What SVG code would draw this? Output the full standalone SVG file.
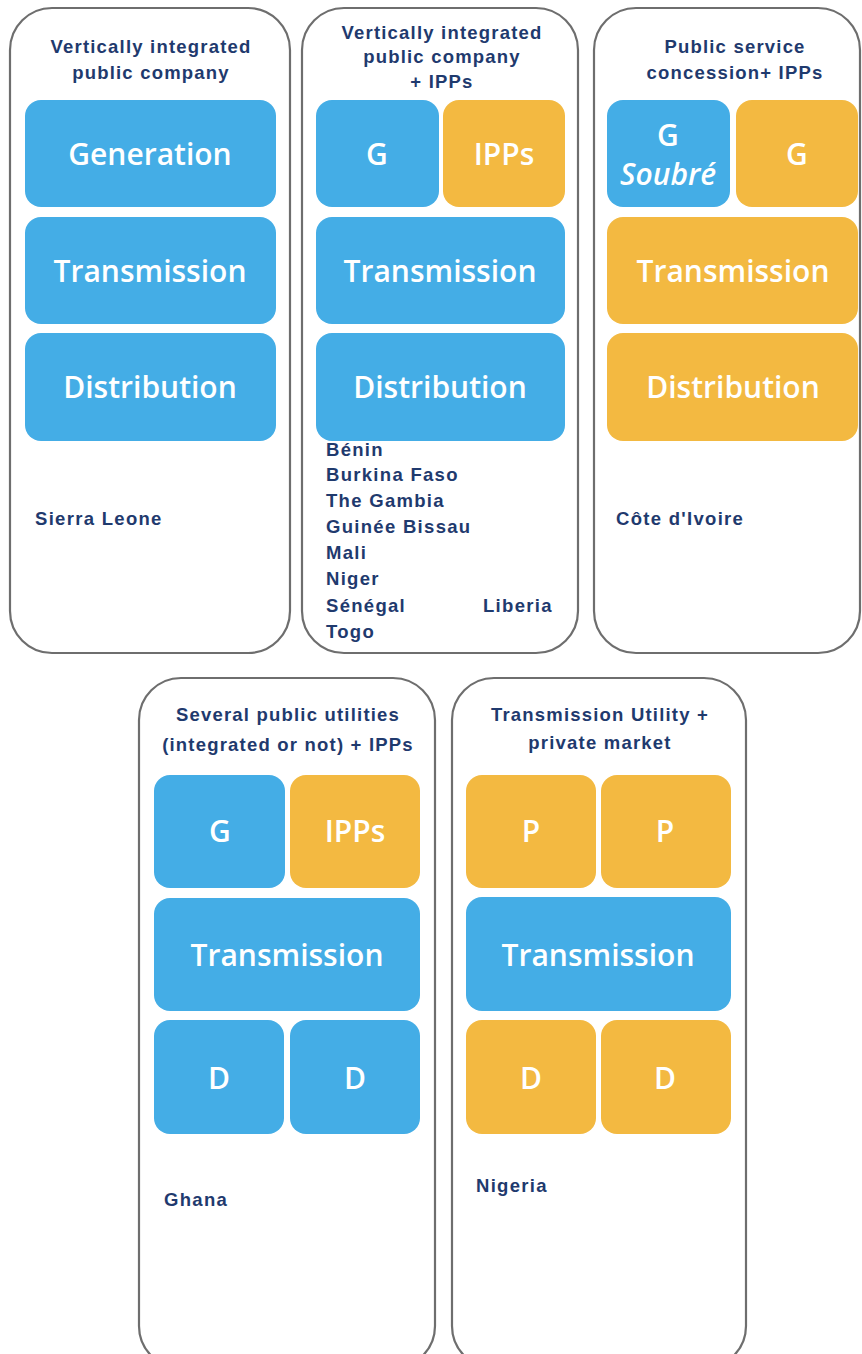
<svg xmlns="http://www.w3.org/2000/svg" width="862" height="1354" viewBox="0 0 862 1354">
<style>
.panel{fill:#fff;stroke:#6e6e6e;stroke-width:2.2}
.b{fill:#44ade6}
.o{fill:#f3b941}
.bt{font-family:"Open Sans","Noto Sans",sans-serif;font-weight:600;font-size:30px;fill:#fff;text-anchor:middle}
.tt{font-family:"Liberation Sans",Arial,sans-serif;font-weight:bold;font-size:18.5px;letter-spacing:1.2px;fill:#1f3a6e;text-anchor:middle}
.ct{font-family:"Liberation Sans",Arial,sans-serif;font-weight:bold;font-size:18.5px;letter-spacing:1.3px;fill:#1f3a6e}
</style>
<rect width="862" height="1354" fill="#fff"/>
<g id="panel1">
<rect class="panel" x="10" y="8" width="280" height="645" rx="42"/>
<text class="tt" x="151" y="53">Vertically integrated</text>
<text class="tt" x="151" y="79">public company</text>
<rect class="b" x="25" y="100" width="251" height="107" rx="16"/>
<text class="bt" x="150" y="165">Generation</text>
<rect class="b" x="25" y="217" width="251" height="107" rx="16"/>
<text class="bt" x="150" y="282">Transmission</text>
<rect class="b" x="25" y="333" width="251" height="108" rx="16"/>
<text class="bt" x="150" y="398">Distribution</text>
<text class="ct" x="35" y="525">Sierra Leone</text>
</g>
<g id="panel2">
<rect class="panel" x="302" y="8" width="276" height="645" rx="42"/>
<text class="tt" x="442" y="39">Vertically integrated</text>
<text class="tt" x="442" y="63">public company</text>
<text class="tt" x="442" y="88">+ IPPs</text>
<rect class="b" x="316" y="100" width="123" height="107" rx="16"/>
<text class="bt" x="377" y="165">G</text>
<rect class="o" x="443" y="100" width="122" height="107" rx="16"/>
<text class="bt" x="504" y="165">IPPs</text>
<rect class="b" x="316" y="217" width="249" height="107" rx="16"/>
<text class="bt" x="440" y="282">Transmission</text>
<rect class="b" x="316" y="333" width="249" height="108" rx="16"/>
<text class="bt" x="440" y="398">Distribution</text>
<text class="ct" x="326" y="456">Bénin</text>
<text class="ct" x="326" y="481">Burkina Faso</text>
<text class="ct" x="326" y="507">The Gambia</text>
<text class="ct" x="326" y="533">Guinée Bissau</text>
<text class="ct" x="326" y="559">Mali</text>
<text class="ct" x="326" y="585">Niger</text>
<text class="ct" x="326" y="612">Sénégal</text>
<text class="ct" x="483" y="612">Liberia</text>
<text class="ct" x="326" y="638">Togo</text>
</g>
<g id="panel3">
<rect class="panel" x="594" y="8" width="266" height="645" rx="42"/>
<text class="tt" x="735" y="53">Public service</text>
<text class="tt" x="735" y="79">concession+ IPPs</text>
<rect class="b" x="607" y="100" width="123" height="107" rx="16"/>
<text class="bt" x="668" y="146">G</text>
<text class="bt" x="668" y="185" font-style="italic" font-size="25">Soubré</text>
<rect class="o" x="736" y="100" width="122" height="107" rx="16"/>
<text class="bt" x="797" y="165">G</text>
<rect class="o" x="607" y="217" width="251" height="107" rx="16"/>
<text class="bt" x="733" y="282">Transmission</text>
<rect class="o" x="607" y="333" width="251" height="108" rx="16"/>
<text class="bt" x="733" y="398">Distribution</text>
<text class="ct" x="616" y="525">Côte d'Ivoire</text>
</g>
<g id="panel4">
<rect class="panel" x="139" y="678" width="296" height="690" rx="42"/>
<text class="tt" x="288" y="721" letter-spacing="0.8">Several public utilities</text>
<text class="tt" x="288" y="751" letter-spacing="0.6">(integrated or not) + IPPs</text>
<rect class="b" x="154" y="775" width="131" height="113" rx="16"/>
<text class="bt" x="220" y="842">G</text>
<rect class="o" x="290" y="775" width="130" height="113" rx="16"/>
<text class="bt" x="355" y="842">IPPs</text>
<rect class="b" x="154" y="898" width="266" height="113" rx="16"/>
<text class="bt" x="287" y="966">Transmission</text>
<rect class="b" x="154" y="1020" width="130" height="114" rx="16"/>
<text class="bt" x="219" y="1089">D</text>
<rect class="b" x="290" y="1020" width="130" height="114" rx="16"/>
<text class="bt" x="355" y="1089">D</text>
<text class="ct" x="164" y="1206" font-size="20" letter-spacing="1.5">Ghana</text>
</g>
<g id="panel5">
<rect class="panel" x="452" y="678" width="294" height="690" rx="42"/>
<text class="tt" x="600" y="721" letter-spacing="1.5">Transmission Utility +</text>
<text class="tt" x="600" y="749" letter-spacing="1.5">private market</text>
<rect class="o" x="466" y="775" width="130" height="113" rx="16"/>
<text class="bt" x="531" y="842">P</text>
<rect class="o" x="601" y="775" width="130" height="113" rx="16"/>
<text class="bt" x="665" y="842">P</text>
<rect class="b" x="466" y="897" width="265" height="114" rx="16"/>
<text class="bt" x="598" y="966">Transmission</text>
<rect class="o" x="466" y="1020" width="130" height="114" rx="16"/>
<text class="bt" x="531" y="1089">D</text>
<rect class="o" x="601" y="1020" width="130" height="114" rx="16"/>
<text class="bt" x="665" y="1089">D</text>
<text class="ct" x="476" y="1192" font-size="20" letter-spacing="1">Nigeria</text>
</g>
<g id="connectors"></g>
</svg>
